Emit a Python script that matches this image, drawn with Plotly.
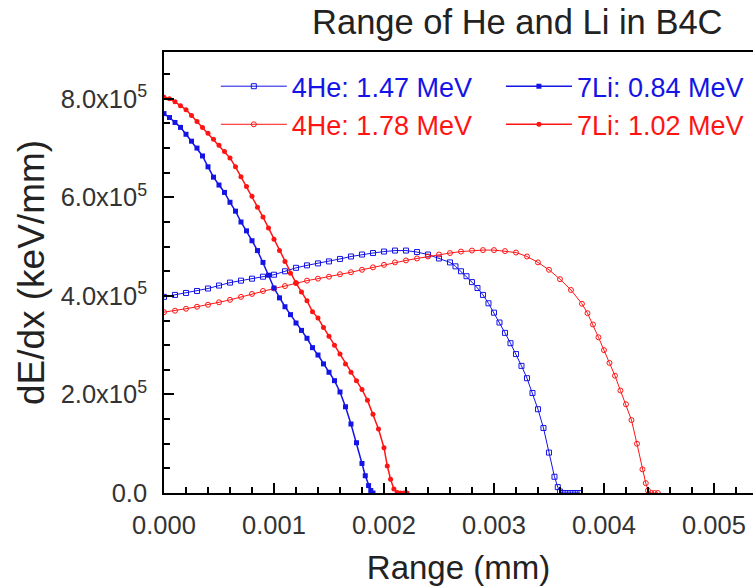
import plotly.graph_objects as go

# ---- data (x in mm, dE/dx in units of 1e5 keV/mm) ----
he147_x = [0, 0.0001, 0.0002, 0.0003, 0.0004, 0.0005, 0.0006, 0.0007, 0.0008, 0.0009, 0.001,
           0.0011, 0.0012, 0.0013, 0.0014, 0.0015, 0.0016, 0.0017, 0.0018, 0.0019, 0.002,
           0.0021, 0.0022, 0.0023, 0.0024, 0.0025, 0.0026, 0.00265, 0.0027, 0.00275, 0.0028,
           0.00285, 0.0029, 0.00295, 0.003, 0.00305, 0.0031, 0.00315, 0.0032, 0.00325, 0.0033,
           0.00335, 0.0034, 0.00345, 0.0035, 0.00355, 0.00358, 0.0036, 0.00363, 0.00366,
           0.00369, 0.00372, 0.00375, 0.00378]
he147_y = [3.98, 4.02, 4.06, 4.10, 4.15, 4.21, 4.27, 4.31, 4.35, 4.39, 4.43,
           4.50, 4.57, 4.62, 4.66, 4.70, 4.75, 4.80, 4.84, 4.87, 4.90,
           4.92, 4.92, 4.89, 4.84, 4.76, 4.68, 4.60, 4.50, 4.40, 4.28,
           4.16, 4.02, 3.85, 3.66, 3.46, 3.25, 3.04, 2.82, 2.58, 2.33,
           2.03, 1.70, 1.32, 0.82, 0.33, 0.12, 0.03, 0, 0,
           0, 0, 0, 0]

he178_x = [0, 0.0001, 0.0002, 0.0003, 0.0004, 0.0005, 0.0006, 0.0007, 0.0008, 0.0009, 0.001,
           0.0011, 0.0012, 0.0013, 0.0014, 0.0015, 0.0016, 0.0017, 0.0018, 0.0019, 0.002,
           0.0021, 0.0022, 0.0023, 0.0024, 0.0025, 0.0026, 0.0027, 0.0028, 0.0029, 0.003,
           0.0031, 0.0032, 0.0033, 0.0034, 0.0035, 0.0036, 0.0037, 0.0038, 0.00385, 0.0039,
           0.00395, 0.004, 0.00405, 0.0041, 0.00415, 0.0042, 0.00425, 0.0043, 0.00435,
           0.00438, 0.0044, 0.00443, 0.00446, 0.00449]
he178_y = [3.67, 3.70, 3.74, 3.78, 3.82, 3.87, 3.92, 3.98, 4.04, 4.10, 4.15,
           4.20, 4.26, 4.31, 4.35, 4.39, 4.44, 4.48, 4.53, 4.58, 4.63,
           4.68, 4.72, 4.76, 4.80, 4.84, 4.87, 4.90, 4.92, 4.93, 4.93,
           4.91, 4.88, 4.80, 4.68, 4.53, 4.34, 4.12, 3.84, 3.65, 3.42,
           3.16, 2.90, 2.64, 2.38, 2.08, 1.80, 1.48, 1.00, 0.48,
           0.20, 0.05, 0, 0, 0]

li084_x = [0, 0.00005, 0.0001, 0.00015, 0.0002, 0.00025, 0.0003, 0.00035, 0.0004, 0.00045,
           0.0005, 0.00055, 0.0006, 0.00065, 0.0007, 0.00075, 0.0008, 0.00085, 0.0009, 0.00095,
           0.001, 0.00105, 0.0011, 0.00115, 0.0012, 0.00125, 0.0013, 0.00135, 0.0014, 0.00145,
           0.0015, 0.00155, 0.0016, 0.00165, 0.0017, 0.00175, 0.0018, 0.00183, 0.00186, 0.00188,
           0.0019]
li084_y = [7.70, 7.62, 7.52, 7.42, 7.28, 7.14, 7.00, 6.84, 6.62, 6.41,
           6.25, 6.10, 5.90, 5.72, 5.50, 5.32, 5.12, 4.92, 4.68, 4.42,
           4.16, 3.96, 3.78, 3.62, 3.45, 3.30, 3.14, 2.95, 2.80, 2.62,
           2.45, 2.28, 2.05, 1.75, 1.40, 1.02, 0.60, 0.35, 0.15, 0.05,
           0.0]

li102_x = [0, 0.00005, 0.0001, 0.00015, 0.0002, 0.00025, 0.0003, 0.00035, 0.0004, 0.00045,
           0.0005, 0.00055, 0.0006, 0.00065, 0.0007, 0.00075, 0.0008, 0.00085, 0.0009, 0.00095,
           0.001, 0.00105, 0.0011, 0.00115, 0.0012, 0.00125, 0.0013, 0.00135, 0.0014, 0.00145,
           0.0015, 0.00155, 0.0016, 0.00165, 0.0017, 0.00175, 0.0018, 0.00185, 0.0019, 0.00195,
           0.002, 0.00203, 0.00206, 0.00209, 0.00212, 0.00215, 0.00218, 0.00221]
li102_y = [8.03, 8.00, 7.94, 7.86, 7.78, 7.66, 7.54, 7.42, 7.30, 7.18,
           7.06, 6.93, 6.80, 6.62, 6.42, 6.22, 6.02, 5.80, 5.60, 5.38,
           5.15, 4.92, 4.70, 4.46, 4.26, 4.08, 3.90, 3.68, 3.55, 3.36,
           3.18, 3.00, 2.82, 2.62, 2.45, 2.28, 2.10, 1.88, 1.60, 1.30,
           0.92, 0.55, 0.28, 0.08, 0.01, 0, 0, 0]

SCALE = 1e5
y_tickvals = [0, 2e5, 4e5, 6e5, 8e5]
y_ticktext = ["0.0", "2.0x10<sup>5</sup>", "4.0x10<sup>5</sup>",
              "6.0x10<sup>5</sup>", "8.0x10<sup>5</sup>"]

BLUE = "#1414e6"
RED = "#ff1414"
FONT = "Arial, Liberation Sans, sans-serif"

fig = go.Figure()
fig.add_trace(go.Scatter(
    x=he147_x, y=[v * SCALE for v in he147_y], mode="lines+markers",
    name=f"<span style='color:{BLUE}'>4He: 1.47 MeV</span>", legend="legend",
    line=dict(color=BLUE, width=1),
    marker=dict(symbol="square-open", size=5, color=BLUE, line=dict(width=1))))
fig.add_trace(go.Scatter(
    x=he178_x, y=[v * SCALE for v in he178_y], mode="lines+markers",
    name=f"<span style='color:{RED}'>4He: 1.78 MeV</span>", legend="legend",
    line=dict(color=RED, width=1),
    marker=dict(symbol="circle-open", size=5, color=RED, line=dict(width=1))))
fig.add_trace(go.Scatter(
    x=li084_x, y=[v * SCALE for v in li084_y], mode="lines+markers",
    name=f"<span style='color:{BLUE}'>7Li: 0.84 MeV</span>", legend="legend2",
    line=dict(color=BLUE, width=1.5),
    marker=dict(symbol="square", size=5, color=BLUE)))
fig.add_trace(go.Scatter(
    x=li102_x, y=[v * SCALE for v in li102_y], mode="lines+markers",
    name=f"<span style='color:{RED}'>7Li: 1.02 MeV</span>", legend="legend2",
    line=dict(color=RED, width=1.5),
    marker=dict(symbol="circle", size=5, color=RED)))

legend_common = dict(orientation="v", y=0.977, xanchor="left", yanchor="top",
                     itemwidth=66, font=dict(size=27), bgcolor="rgba(0,0,0,0)",
                     tracegroupgap=0)

fig.update_layout(
    width=753, height=588,
    margin=dict(l=164, r=0, t=52, b=95),
    paper_bgcolor="white", plot_bgcolor="white",
    font=dict(family=FONT, color="#222222"),
    title=dict(text="Range of He and Li in B4C", x=0.687, xanchor="center",
               y=0.963, yanchor="middle", font=dict(size=34.5, color="#222222")),
    showlegend=True,
    legend=dict(x=0.088, **legend_common),
    legend2=dict(x=0.572, **legend_common),
    xaxis=dict(range=[0, 0.005355], showgrid=False, zeroline=False,
               showline=True, linecolor="black", linewidth=1.5, mirror=True,
               ticks="inside", ticklen=10, tickwidth=1.5, tickcolor="black",
               tick0=0, dtick=0.001, tickformat=".3f", ticklabelstandoff=9,
               minor=dict(ticks="inside", ticklen=6, tickcolor="black", dtick=0.0002, tick0=0),
               tickfont=dict(size=25.5, color="#333333"),
               title=dict(text="Range (mm)", font=dict(size=33, color="#222222"), standoff=18)),
    yaxis=dict(range=[0, 8.95e5], showgrid=False, zeroline=False,
               showline=True, linecolor="black", linewidth=1.5,
               ticks="inside", ticklen=10, tickwidth=1.5, tickcolor="black",
               tickmode="array", tickvals=y_tickvals, ticktext=y_ticktext,
               ticklabelstandoff=10,
               minor=dict(ticks="inside", ticklen=6, tickcolor="black",
                          tickmode="linear", tick0=0, dtick=50000),
               tickfont=dict(size=25.5, color="#333333"),
               title=dict(text="dE/dx (keV/mm)", font=dict(size=37, color="#222222"), standoff=5)),
)

fig.write_html("out.html")
